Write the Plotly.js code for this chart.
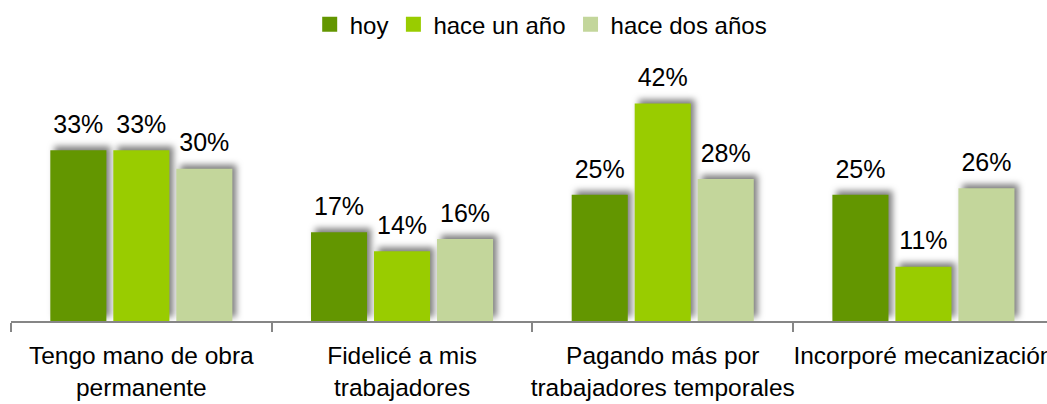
<!DOCTYPE html>
<html>
<head>
<meta charset="utf-8">
<script src="https://cdn.plot.ly/plotly-3.0.1.min.js"></script>
<style>
  html, body { margin: 0; padding: 0; background: #ffffff; }
  #chart { width: 1047px; height: 404px; }
  .barlayer .trace .point path { filter: drop-shadow(4px -4px 3px rgba(0,0,0,0.5)); }
</style>
</head>
<body>
<div id="chart"></div>
<script>
// Categories (x-axis labels)
const categories = [
  "Tengo mano de obra<br>permanente",
  "Fidelicé a mis<br>trabajadores",
  "Pagando más por<br>trabajadores temporales",
  "Incorporé mecanización"
];

// Series names
const seriesNames = ["hoy", "hace un año", "hace dos años"];

// Series values (%); labels show rounded values
const hoy = [33.3, 17.3, 24.6, 24.6];
const haceUnAno = [33.3, 13.6, 42.4, 10.6];
const haceDosAnos = [29.7, 16.0, 27.7, 25.9];

const seriesValues = [hoy, haceUnAno, haceDosAnos];
const seriesColors = ["#639600", "#99CC00", "#C3D69B"];

const FONT = '"Liberation Sans", Arial, sans-serif';

const traces = [];
seriesValues.forEach((vals, i) => {
  traces.push({
    type: "bar",
    name: seriesNames[i],
    x: categories,
    y: vals,
    marker: { color: seriesColors[i], line: { width: 0 } },
    hoverinfo: "skip"
  });
});
seriesValues.forEach((vals, i) => {
  traces.push({
    type: "scatter",
    mode: "markers+text",
    x: categories,
    y: vals,
    texttemplate: "%{y:.0f}%",
    textposition: "top center",
    textfont: { family: FONT, size: 25, color: "#000000" },
    marker: { size: 16, opacity: 0, color: seriesColors[i] },
    showlegend: false,
    hoverinfo: "skip",
    cliponaxis: false
  });
});

const layout = {
  width: 1047,
  height: 404,
  margin: { l: 11, r: 0, t: 60, b: 83, pad: 0 },
  paper_bgcolor: "#ffffff",
  plot_bgcolor: "#ffffff",
  font: { family: FONT, size: 24, color: "#000000" },
  barmode: "group",
  bargap: 0.275,
  bargroupgap: 0.11,
  scattermode: "group",
  scattergap: 0.275,
  showlegend: true,
  legend: {
    orientation: "h",
    xref: "container",
    yref: "container",
    x: 0.2958,
    xanchor: "left",
    y: 0.939,
    yanchor: "middle",
    font: { family: FONT, size: 24, color: "#000000" },
    bgcolor: "rgba(0,0,0,0)",
    borderwidth: 0
  },
  xaxis: {
    type: "category",
    range: [-0.5, 3.474],
    tickson: "boundaries",
    ticks: "outside",
    ticklen: 9,
    tickwidth: 2,
    tickcolor: "#868686",
    showline: true,
    linecolor: "#868686",
    linewidth: 2,
    showgrid: false,
    zeroline: false,
    tickangle: 0,
    ticklabelstandoff: 12,
    tickfont: { family: FONT, size: 24.5, color: "#000000" },
    fixedrange: true
  },
  yaxis: {
    visible: false,
    range: [0, 50.88],
    showgrid: false,
    zeroline: false,
    fixedrange: true
  }
};

Plotly.newPlot("chart", traces, layout, { displayModeBar: false, staticPlot: true }).then(() => {
  // enlarge legend swatches to match the reference squares
  document.querySelectorAll("#chart .legendpoints path").forEach(p => {
    const t = p.getAttribute("transform") || "";
    p.setAttribute("transform", t + " scale(1.25)");
  });
});
</script>
</body>
</html>
